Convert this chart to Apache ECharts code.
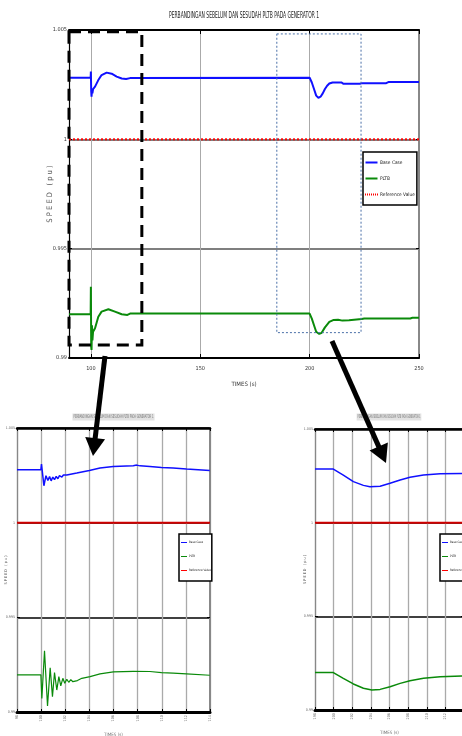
<!DOCTYPE html>
<html><head><meta charset="utf-8">
<script src="https://cdn.jsdelivr.net/npm/echarts@6/dist/echarts.min.js"></script>
<style>html,body{margin:0;padding:0;background:#fff}#c{width:462px;height:736px}</style>
</head><body><div id="c"></div>
<script>
const titleText = 'PERBANDINGAN SEBELUM DAN SESUDAH PLTB PADA GENERATOR 1';
const xName = 'TIMES (s)';
const yName = 'S P E E D   ( p u )';
const seriesNames = ['Base Case', 'PLTB', 'Reference Value'];
const mainXTicks = [100, 150, 200, 250];

const mainBase = [[90,1.00282],[99.9,1.00282],[100,1.0031],[100.15,1.0022],[100.3,1.00195],[100.5,1.0023],[100.7,1.0021],[101,1.0023],[101.9,1.00241],[103.4,1.00271],[104.9,1.00294],[107.2,1.00305],[109.5,1.003],[111.8,1.00287],[114.1,1.00278],[116.1,1.00276],[117.9,1.0028],[200,1.00282],[201,1.0026],[202,1.0023],[203,1.002],[204,1.0019],[205,1.00195],[206,1.0021],[207,1.0023],[208,1.00245],[209,1.00255],[210.5,1.0026],[214.5,1.0026],[215.5,1.00254],[223,1.00254],[224,1.00257],[235,1.00257],[236,1.00262],[250,1.00262]];
const mainPltb = [[90,0.992],[99.9,0.992],[100,0.99326],[100.15,0.9905],[100.3,0.99037],[100.5,0.9915],[100.7,0.9908],[101,0.9912],[101.9,0.99136],[103.4,0.99189],[104.9,0.99212],[108,0.99223],[111,0.99212],[114.1,0.992],[116.7,0.99197],[117.9,0.99203],[200,0.99203],[201,0.9918],[202,0.9915],[203,0.9912],[204.4,0.9911],[205.5,0.99115],[207,0.9914],[209,0.99165],[211,0.99174],[213,0.99175],[215,0.99171],[218,0.99173],[223.8,0.99178],[225,0.99181],[246,0.99181],[247,0.99184],[250,0.99184]];
const mainRef = [[90,1],[250,1]];

const sub1Base = [[98,1.0028],[99.98,1.0028],[100.03,1.0031],[100.23,1.00195],[100.4,1.00248],[100.56,1.00223],[100.7,1.00244],[100.83,1.00221],[100.97,1.00241],[101.11,1.00227],[101.25,1.00244],[101.39,1.00232],[101.52,1.00248],[101.72,1.00241],[101.85,1.00252],[102.13,1.00252],[102.96,1.00262],[104.0,1.00276],[104.88,1.00289],[105.98,1.00297],[107.64,1.00301],[107.92,1.00304],[108.2,1.003],[109.02,1.00297],[109.98,1.00292],[110.94,1.00289],[112.05,1.00283],[113.98,1.00276]];
const sub1Pltb = [[98,0.99196],[99.98,0.99196],[100.06,0.99072],[100.28,0.99323],[100.53,0.99032],[100.75,0.99234],[100.94,0.99081],[101.11,0.99208],[101.3,0.99116],[101.47,0.99187],[101.63,0.99138],[101.8,0.99178],[101.96,0.99152],[102.13,0.99173],[102.29,0.99157],[102.46,0.99171],[102.63,0.9916],[102.79,0.99169],[103.01,0.99166],[103.37,0.99178],[104.06,0.99187],[104.88,0.99201],[105.99,0.99212],[107.64,0.99215],[109.02,0.99214],[109.98,0.99208],[110.94,0.99205],[112.05,0.99201],[113.98,0.99194]];
const sub1Ref = [[98,1],[114,1]];

const sub2Base = [[198,1.00286],[199.97,1.00286],[201.04,1.00254],[202.12,1.00219],[203.2,1.00199],[203.9,1.00192],[204.99,1.00194],[206.06,1.0021],[207.14,1.00228],[208.2,1.00242],[209.65,1.00254],[211.44,1.00261],[213.77,1.00263],[214,1.00263]];
const sub2Pltb = [[198,0.992],[199.97,0.992],[201.04,0.99169],[202.12,0.99139],[203.2,0.99116],[204.1,0.99107],[204.99,0.9911],[206.06,0.99124],[207.14,0.99142],[208.2,0.99156],[209.65,0.99169],[211.44,0.99178],[213.77,0.99181],[214,0.99181]];
const sub2Ref = [[198,1],[214,1]];

// zoom boxes on the main chart, in data units [time, speed]
const zoomBoxes = [
  {from: [90, 1.00492], to: [123.3, 0.9906]},
  {from: [185, 1.00482], to: [223.5, 0.99116]}
];

const NARROW = "'Liberation Sans Narrow','DejaVu Sans Condensed','Liberation Sans',sans-serif";
const mctx = document.createElement('canvas').getContext('2d');
function fitScale(text, size, target) {
  mctx.font = size + 'px ' + NARROW;
  return target / mctx.measureText(text).width;
}
const yFmt = v => String(+v.toFixed(3));
const SOLID_ICON = 'path://M0,0H24V4H0Z';
const DOT_ICON = 'path://M0,0H2V4H0ZM4,0H6V4H4ZM8,0H10V4H8ZM12,0H14V4H12ZM16,0H18V4H16ZM20,0H22V4H20ZM24,0H26V4H24Z';

function xAxes(g, min, max, opts) {
  return [{
    type: 'value', gridIndex: g, min: min, max: max,
    interval: opts.interval, position: 'bottom',
    axisLine: {show: true, onZero: false, lineStyle: {color: '#000', width: opts.bw}},
    axisTick: Object.assign({show: true, inside: true, length: opts.tl, lineStyle: {color: '#000'}}, opts.custom ? {customValues: opts.custom} : {}),
    axisLabel: Object.assign({fontSize: opts.fs, color: opts.lc, fontFamily: NARROW, margin: opts.lm, rotate: opts.rot || 0}, opts.custom ? {customValues: opts.custom} : {}),
    splitLine: {show: true, lineStyle: {color: '#aaa', width: opts.sw}},
    name: xName, nameLocation: 'middle', nameGap: opts.ng, nameMoveOverlap: false,
    nameTextStyle: {fontSize: opts.nfs, color: opts.lc, fontFamily: NARROW}
  }, {
    type: 'value', gridIndex: g, min: min, max: max, interval: opts.interval, position: 'top',
    axisLine: {show: true, onZero: false, lineStyle: {color: '#000', width: opts.tw}},
    axisTick: Object.assign({show: true, inside: true, length: opts.tl, lineStyle: {color: '#000'}}, opts.custom ? {customValues: opts.custom} : {}),
    axisLabel: {show: false}, splitLine: {show: false}
  }];
}
function yAxes(g, opts) {
  return [{
    type: 'value', gridIndex: g, min: 0.99, max: 1.005, interval: 0.005,
    axisLine: {show: true, onZero: false, lineStyle: {color: opts.alc, width: 1.2}},
    axisTick: {show: true, inside: true, length: 3, lineStyle: {color: '#000'}},
    axisLabel: {formatter: yFmt, fontSize: opts.fs, color: opts.lc, fontFamily: NARROW, margin: opts.lm},
    splitLine: {show: true, lineStyle: {color: opts.sc, width: 1.5}},
    name: yName, nameLocation: 'middle', nameGap: opts.ng, nameRotate: 90, nameMoveOverlap: false,
    nameTextStyle: {fontSize: opts.nfs, color: '#555', fontFamily: NARROW}
  }, {
    type: 'value', gridIndex: g, min: 0.99, max: 1.005, interval: 0.005, position: 'right',
    axisLine: {show: true, onZero: false, lineStyle: {color: '#888', width: 2}},
    axisTick: {show: true, inside: true, length: 3, lineStyle: {color: '#000'}},
    axisLabel: {show: false}, splitLine: {show: false}
  }];
}
function lineSeries(name, data, xi, yi, color, width, type) {
  return {name: name, type: 'line', data: data, xAxisIndex: xi, yAxisIndex: yi,
    showSymbol: false, symbol: 'none', animation: false, z: 3,
    lineStyle: {color: color, width: width, type: type || 'solid'}, itemStyle: {color: color}};
}
function legendAt(left, top, fs, iw, ih, gap, pad, bw, dotted) {
  return {show: true, orient: 'vertical', left: left, top: top,
    data: [
      {name: seriesNames[0], icon: SOLID_ICON},
      {name: seriesNames[1], icon: SOLID_ICON},
      {name: seriesNames[2], icon: dotted ? DOT_ICON : SOLID_ICON}
    ],
    itemWidth: iw, itemHeight: ih, itemGap: gap, padding: pad,
    borderColor: '#000', borderWidth: bw, backgroundColor: '#fff',
    selectedMode: false, z: 20,
    textStyle: {fontSize: fs, color: '#222', fontFamily: NARROW, padding: [0, 0, 0, -3]}};
}

const chart = echarts.init(document.getElementById('c'), null, {renderer: 'canvas'});
const BLUE = '#1010ff', GREEN = '#0a8a0a', RED = '#ff0000';

const option = {
  animation: false,
  backgroundColor: '#fff',
  grid: [
    {left: 69, top: 30, width: 350, height: 328, outerBoundsMode: 'none'},
    {left: 17, top: 428, width: 193, height: 284, outerBoundsMode: 'none'},
    {left: 315, top: 429, width: 149, height: 281, outerBoundsMode: 'none'}
  ],
  xAxis: [].concat(
    xAxes(0, 90, 250, {custom: mainXTicks, bw: 2, tw: 2, tl: 4, fs: 5.5, lc: '#333', lm: 8, sw: 1, ng: 23, nfs: 6}),
    xAxes(1, 98, 114, {interval: 2, bw: 3, tw: 2.5, tl: 3, fs: 3.8, lc: '#777', lm: 3, rot: 90, sw: 1.3, ng: 20, nfs: 4.5}),
    xAxes(2, 198, 214, {interval: 2, bw: 3, tw: 2.5, tl: 3, fs: 3.8, lc: '#777', lm: 3, rot: 90, sw: 1.3, ng: 20, nfs: 4.5})
  ),
  yAxis: [].concat(
    yAxes(0, {alc: '#000', fs: 5.5, lc: '#333', lm: 2, sc: '#555', ng: 15, nfs: 7.5}),
    yAxes(1, {alc: '#888', fs: 3.6, lc: '#666', lm: 2, sc: '#000', ng: 9, nfs: 3.8}),
    yAxes(2, {alc: '#888', fs: 3.6, lc: '#666', lm: 2, sc: '#000', ng: 8, nfs: 3.8})
  ),
  legend: [
    legendAt(363, 152, 4.8, 13, 2, 11, [8, 2, 8, 2], 1.5, true),
    legendAt(179, 534, 3, 6, 2, 11, [7, 1, 9, 2], 1.5, false),
    legendAt(440, 534, 3, 6, 2, 11, [7, 1, 9, 2], 1.5, false)
  ],
  series: [
    lineSeries(seriesNames[0], mainBase, 0, 0, BLUE, 2),
    lineSeries(seriesNames[1], mainPltb, 0, 0, GREEN, 2),
    lineSeries(seriesNames[2], mainRef, 0, 0, RED, 2, 'dotted'),
    lineSeries(seriesNames[0], sub1Base, 2, 2, BLUE, 1.5),
    lineSeries(seriesNames[1], sub1Pltb, 2, 2, GREEN, 1.2),
    lineSeries(seriesNames[2], sub1Ref, 2, 2, '#d00000', 2),
    lineSeries(seriesNames[0], sub2Base, 4, 4, BLUE, 1.5),
    lineSeries(seriesNames[1], sub2Pltb, 4, 4, GREEN, 1.5),
    lineSeries(seriesNames[2], sub2Ref, 4, 4, '#d00000', 2)
  ]
};
chart.setOption(option);

function arrow(x1, y1, x2, y2, w, hl, hw) {
  const dx = x2 - x1, dy = y2 - y1, L = Math.hypot(dx, dy);
  const ux = dx / L, uy = dy / L, px = -uy, py = ux;
  const bx = x2 - ux * hl, by = y2 - uy * hl;
  return [
    {type: 'line', z: 100, shape: {x1: x1, y1: y1, x2: bx + ux * 2, y2: by + uy * 2}, style: {stroke: '#000', lineWidth: w}},
    {type: 'polygon', z: 100, shape: {points: [[x2, y2], [bx + px * hw / 2, by + py * hw / 2], [bx - px * hw / 2, by - py * hw / 2]]}, style: {fill: '#000'}}
  ];
}
function boxRect(b, style) {
  const p1 = chart.convertToPixel({gridIndex: 0}, b.from);
  const p2 = chart.convertToPixel({gridIndex: 0}, b.to);
  return {type: 'rect', z: 99, shape: {x: p1[0], y: p1[1], width: p2[0] - p1[0], height: p2[1] - p1[1]},
    style: Object.assign({fill: 'none'}, style)};
}
function squishText(text, x, y, size, target, fill, bg) {
  const s = fitScale(text, size, target);
  const st = {text: text, fontSize: size, fontFamily: NARROW, fill: fill, align: 'center', verticalAlign: 'middle'};
  if (bg) { st.backgroundColor = bg; st.padding = [1, 2]; }
  return {type: 'text', x: x, y: y, scaleX: s, z: 50, style: st};
}

const g = [];
g.push(squishText(titleText, 244, 16, 8.5, 150, '#222'));
g.push(squishText(titleText, 113.5, 417, 5, 80, '#777', '#e2e2e2'));
g.push(squishText(titleText, 389, 417, 5, 63, '#777', '#e2e2e2'));
g.push(boxRect(zoomBoxes[0], {stroke: '#000', lineWidth: 3, lineDash: [12, 7]}));
g.push(boxRect(zoomBoxes[1], {stroke: '#4a6fa8', lineWidth: 1, lineDash: [2, 2]}));
arrow(105, 356, 93, 456, 5, 18, 20).forEach(e => g.push(e));
arrow(332, 341, 386, 463, 5, 18, 20).forEach(e => g.push(e));
chart.setOption({graphic: g});
</script>
</body></html>
